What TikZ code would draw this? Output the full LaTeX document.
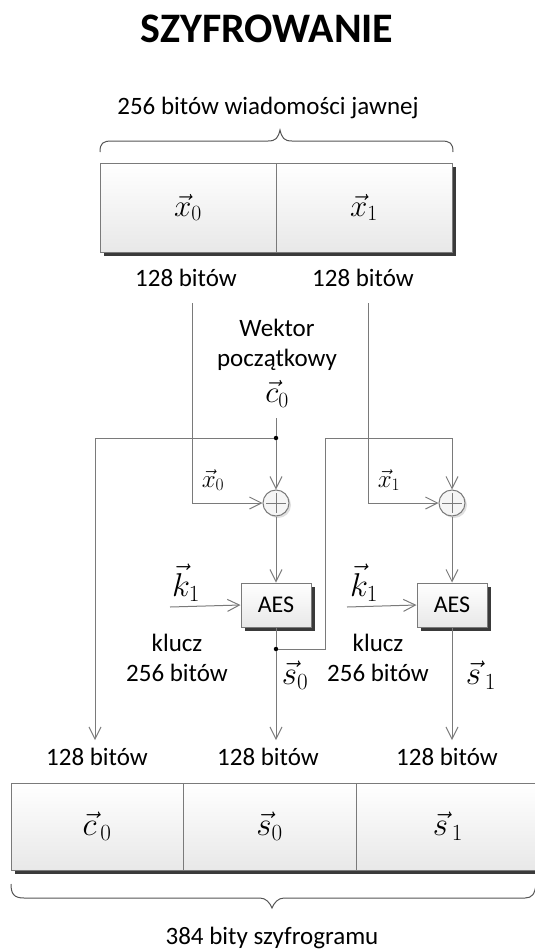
\RequirePackage{fix-cm}
\documentclass[tikz,border=0pt]{standalone}
\usepackage{fontspec}
\setmainfont{Carlito}
\usetikzlibrary{arrows.meta,calc,shadows}
\definecolor{lgray}{HTML}{7A7A7A}
\definecolor{shad}{HTML}{3A3A3A}
\begin{document}
\begin{tikzpicture}[x=1pt,y=-1pt,
 txt/.style={font=\fontsize{25}{30}\selectfont, align=center, inner sep=0pt},
 mth/.style={font=\fontsize{31}{34}\selectfont, inner sep=0pt},
 mths/.style={font=\fontsize{25}{28}\selectfont, inner sep=0pt},
 mthb/.style={font=\fontsize{33}{36}\selectfont, inner sep=0pt},
 ln/.style={draw=lgray, line width=1pt},
 arr/.style={ln, -{Straight Barb[length=12pt,width=12pt]}},
 cell/.style={draw=lgray, line width=1pt, top color=white, bottom color=gray!18, inner sep=0pt,
   drop shadow={shadow xshift=4pt, shadow yshift=-4pt, fill=shad, opacity=1}},
 aes/.style={cell, minimum width=70pt, minimum height=44pt, font=\fontsize{24}{28}\selectfont},
 xorn/.style={circle, draw=lgray, line width=1pt, fill=gray!8, minimum size=26pt, inner sep=0pt,
   drop shadow={shadow xshift=2pt, shadow yshift=-2pt, fill=gray!25, opacity=1}},
 dot/.style={circle, fill=black, inner sep=0pt, minimum size=4.5pt},
 brc/.style={draw=lgray!70!black, line width=1pt}]

\useasboundingbox (0,0) rectangle (535,951);

% title and header
\node[font=\fontsize{42}{48}\selectfont\bfseries] (title) at (267,29) {SZYFROWANIE};
\node[txt] (hdr) at (268,108) {256 bitów wiadomości jawnej};
\draw[brc] (100,152) .. controls (100,143) and (103,141) .. (112,141) -- (268,141)
  .. controls (276,141) and (278,138) .. (280,130) .. controls (282,138) and (284,141) .. (292,141)
  -- (441,141) .. controls (450,141) and (453,143) .. (453,152);

% plaintext box
\node[cell, minimum width=176pt, minimum height=89pt, mth] (x0box) at (188,207.5) {$\vec{x}_0$};
\node[cell, minimum width=176pt, minimum height=89pt, mth] (x1box) at (364,207.5) {$\vec{x}_1$};
\node[txt] (tb0) at (186,278) {128 bitów};
\node[txt] (tb1) at (363,278) {128 bitów};

% IV
\node[txt] (iv) at (277,345) {Wektor\\początkowy};
\node[mth] (c0) at (277,394) {$\vec{c}_0$};
\coordinate (c0s) at (276,418);
\node[dot] (j1) at (276,438) {};
\coordinate (lftb) at (95,740);

% XORs
\node[xorn] (xor1) at (276,503) {};
\node[xorn] (xor2) at (452,503) {};
\foreach \n in {xor1,xor2}{
  \draw[ln] ($(\n)+(0,-10)$) -- ($(\n)+(0,10)$);
  \draw[ln] ($(\n)+(-10,0)$) -- ($(\n)+(10,0)$);
}
\coordinate (x0top) at (192,303);
\coordinate (x1top) at (368,303);
\node[mths] (lx0) at (213,480) {$\vec{x}_0$};
\node[mths] (lx1) at (389,480) {$\vec{x}_1$};

% AES
\node[aes] (aes1) at (276,605) {AES};
\node[aes] (aes2) at (452,605) {AES};
\node[mthb] (k1a) at (186,583) {$\vec{k}_1$};
\node[mthb] (k1b) at (364,583) {$\vec{k}_1$};
\coordinate (k1as) at (170,607);
\coordinate (k1bs) at (347,607);
\node[txt] (kl1) at (177,658) {klucz\\256 bitów};
\node[txt] (kl2) at (378,658) {klucz\\256 bitów};
\node[dot] (j2) at (276,649) {};
\coordinate (fb1) at (325,649);
\coordinate (fb2) at (325,438);
\coordinate (fb3) at (452,438);
\coordinate (s0b) at (276,740);
\coordinate (s1b) at (452,740);
\node[mthb] (ls0) at (295,675) {$\vec{s}_0$};
\node[mthb] (ls1) at (481,675) {$\vec{s}_{\,1}$};

% connectors
\draw[ln] (c0s) -- (j1);
\draw[arr] (j1) -- (xor1.north);
\draw[arr] (j1) -| (lftb);
\draw[arr] (x0top) |- (xor1.west);
\draw[arr] (x1top) |- (xor2.west);
\draw[arr] (xor1.south) -- (aes1.north);
\draw[arr] (xor2.south) -- (aes2.north);
\draw[arr] (k1as) -- (aes1.west);
\draw[arr] (k1bs) -- (aes2.west);
\draw[ln] (aes1.south) -- (j2);
\draw[arr] (j2) -- (s0b);
\draw[arr] (j2) -- (fb1) -- (fb2) -- (fb3) -- (xor2.north);
\draw[arr] (aes2.south) -- (s1b);

% ciphertext
\node[txt] (bb0) at (97,757) {128 bitów};
\node[txt] (bb1) at (268,757) {128 bitów};
\node[txt] (bb2) at (447,757) {128 bitów};
\node[cell, minimum width=172pt, minimum height=87pt, mthb] (c0box) at (97,826.5) {$\vec{c}_{\,0}$};
\node[cell, minimum width=173pt, minimum height=87pt, mthb] (s0box) at (269.5,826.5) {$\vec{s}_0$};
\node[cell, minimum width=184pt, minimum height=87pt, mthb] (s1box) at (448,826.5) {$\vec{s}_{\,1}$};
\draw[brc] (11,884) .. controls (11,894) and (14,898) .. (24,898) -- (260,898)
  .. controls (266,898) and (270,903) .. (272,908) .. controls (274,903) and (278,898) .. (284,898)
  -- (525,898) .. controls (532,898) and (535,894) .. (536,884);
\node[txt] (ftr) at (272,938) {384 bity szyfrogramu};
\end{tikzpicture}
\end{document}
